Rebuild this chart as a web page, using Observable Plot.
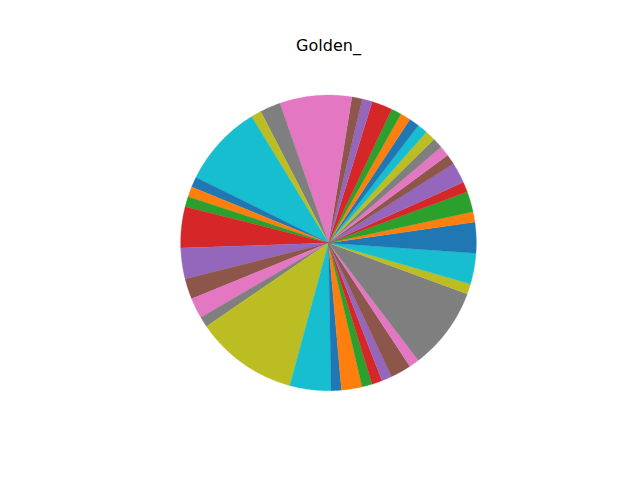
<!DOCTYPE html>
<html>
<head>
<meta charset="utf-8">
<script src="https://cdn.jsdelivr.net/npm/d3@7"></script>
<script src="https://cdn.jsdelivr.net/npm/@observablehq/plot@0.6"></script>
<style>
  html, body { margin: 0; padding: 0; background: #fff; }
</style>
</head>
<body>
<div id="chart"></div>
<script>
const title = "Golden_";
const values = [2,1,2,1,2,1,1,1,1,1, 1,1,1,2,1,1,7,2,1,8, 1,1,1,4,3,2,2,1,10,4, 1,2,1,1,1,2,1,8,1,3, 1];
const palette = ["#1f77b4","#ff7f0e","#2ca02c","#d62728","#9467bd","#8c564b","#e377c2","#7f7f7f","#bcbd22","#17becf"];

const total = d3.sum(values);
const pts = [];
let acc = 0;
values.forEach((v, i) => {
  const a0 = acc / total * 2 * Math.PI;
  acc += v;
  const a1 = acc / total * 2 * Math.PI;
  const n = Math.max(2, Math.ceil((a1 - a0) / (Math.PI / 360)));
  pts.push({i, x: 0, y: 0});
  for (let k = 0; k <= n; k++) {
    const a = a0 + (a1 - a0) * k / n;
    pts.push({i, x: Math.cos(a), y: Math.sin(a)});
  }
  pts.push({i, x: 0, y: 0});
});

const W = 640, H = 480;
const mL = 80, mR = 64, mT = 57.6, mB = 52.8;
const yr = 1.25;
const xr = yr * (W - mL - mR) / (H - mT - mB);

const chart = Plot.plot({
  width: W, height: H,
  marginLeft: mL, marginRight: mR, marginTop: mT, marginBottom: mB,
  x: {domain: [-xr, xr], axis: null},
  y: {domain: [-yr, yr], axis: null},
  color: {type: "ordinal", domain: d3.range(10), range: palette},
  style: {background: "#fff"},
  marks: [
    Plot.line(pts, {x: "x", y: "y", z: "i", fill: d => d.i % 10, stroke: d => d.i % 10, strokeWidth: 0.3, curve: "linear"}),
    Plot.text([title], {frameAnchor: "top", text: d => d, dy: -7, lineAnchor: "bottom", fontSize: 16, fontFamily: "DejaVu Sans", fill: "#000"})
  ]
});
document.getElementById("chart").appendChild(chart);
</script>
</body>
</html>
